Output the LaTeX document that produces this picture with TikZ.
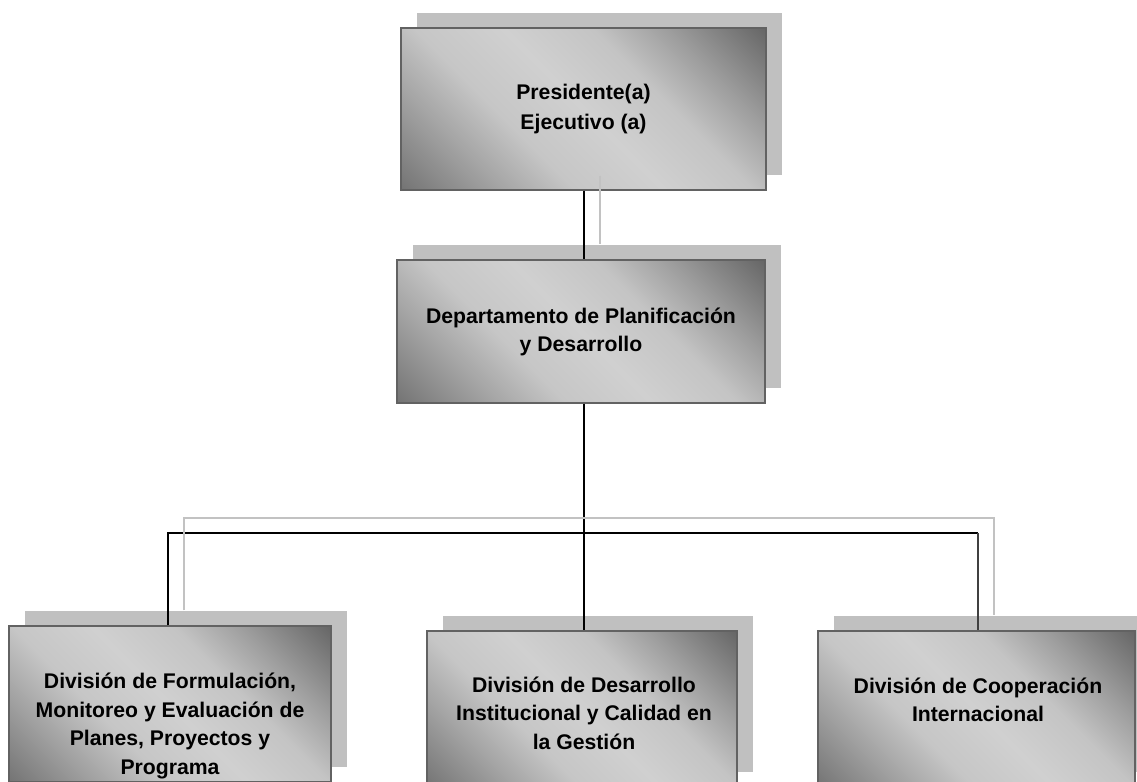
\documentclass[tikz,border=0pt]{standalone}
\usepackage{fontspec}
\setmainfont{Liberation Sans}
\usetikzlibrary{shadows,calc}

% palette
\definecolor{shadowgray}{HTML}{C0C0C0}
\definecolor{edgegray}{HTML}{626262}
\definecolor{linkshadow}{HTML}{C2C2C2}
\definecolor{gLowEnd}{HTML}{747474}
\definecolor{gLowMid}{HTML}{A4A4A4}
\definecolor{gLowTop}{HTML}{C6C6C6}
\definecolor{gCentre}{HTML}{D0D0D0}
\definecolor{gHighTop}{HTML}{C4C4C4}
\definecolor{gHighMid}{HTML}{9E9E9E}
\definecolor{gHighEnd}{HTML}{666666}

% diagonal metallic fill: dark corners, light band along the other diagonal
\pgfdeclarehorizontalshading{unitshade}{100bp}{%
  color(0bp)=(gLowEnd); color(14.6bp)=(gLowEnd); color(28bp)=(gLowMid);
  color(38bp)=(gLowTop); color(50bp)=(gCentre); color(62bp)=(gHighTop);
  color(72bp)=(gHighMid); color(85.4bp)=(gHighEnd); color(100bp)=(gHighEnd)}

\begin{document}
\begin{tikzpicture}[x=0.75pt,y=-0.75pt,
  unit/.style={draw=edgegray, line width=1.1pt, shading=unitshade, shading angle=45,
    general shadow={fill=shadowgray, shadow xshift=12pt, shadow yshift=11.25pt},
    inner sep=0pt},
  caption/.style={align=center, inner sep=0pt, text=black,
    font=\bfseries\fontsize{15.9}{21.4}\selectfont},
  link/.style={draw=black, line width=1.1pt},
  linkshade/.style={draw=linkshadow, line width=1pt}]

\path[use as bounding box] (0,0) rectangle (1137,781);
\clip (0,0) rectangle (1137,781);

% units
\node[unit, minimum width=273.75pt, minimum height=121.5pt] (pres) at (583.5,109) {};
\node[unit, minimum width=276pt, minimum height=107.25pt] (dept) at (581,331.5) {};
\node[unit, minimum width=241.5pt, minimum height=117pt] (div1) at (170,704) {};
\node[unit, minimum width=232.5pt, minimum height=117pt] (div2) at (582,709) {};
\node[unit, minimum width=237.75pt, minimum height=117pt] (div3) at (976.5,709) {};

% unit titles
\node[caption, font=\bfseries\fontsize{15.9}{22.5}\selectfont] (presT) at (pres.center)
  {Presidente(a)\\Ejecutivo (a)};
\node[caption] (deptT) at ($(dept.center)+(0,0.5)$)
  {Departamento de Planificación\\y Desarrollo};
\begin{scope}
  % the long title runs past the text area of its box and is cut there
  \clip (div1.north west) rectangle ([yshift=-6pt]div1.south east);
  \node[caption] (div1T) at ($(div1.center)+(0,22)$)
    {División de Formulación,\\Monitoreo y Evaluación de\\Planes, Proyectos y\\Programa};
\end{scope}
\node[caption] (div2T) at ($(div2.center)+(2,4)$)
  {División de Desarrollo\\Institucional y Calidad en\\la Gestión};
\node[caption] (div3T) at ($(div3.center)+(1.5,-9)$)
  {División de Cooperación\\Internacional};

% bus points
\coordinate (busM) at (584,533);
\coordinate (busL) at (168,533);
\coordinate (busR) at (978,533);

% connectors
\draw[link] (pres.south -| busM) -- (dept.north -| busM);
\draw[link] (dept.south -| busM) -- (busM);
\draw[link] (busL |- div1.north) -- (busL) -- (busR);
\draw[link, draw=black!75] (busR) -- (busR |- div3.north);
\draw[link] (busM) -- (busM |- div2.north);

% offset shadows of the connectors
\draw[linkshade] ([shift={(16,-15)}]pres.south -| busM) -- ([shift={(16,-15)}]dept.north -| busM);
\draw[linkshade] ([shift={(16,-15)}]busL |- div1.north) -- ([shift={(16,-15)}]busL)
  -- ([shift={(16,-15)}]busR) -- ([shift={(16,-15)}]busR |- div3.north);
\end{tikzpicture}
\end{document}
